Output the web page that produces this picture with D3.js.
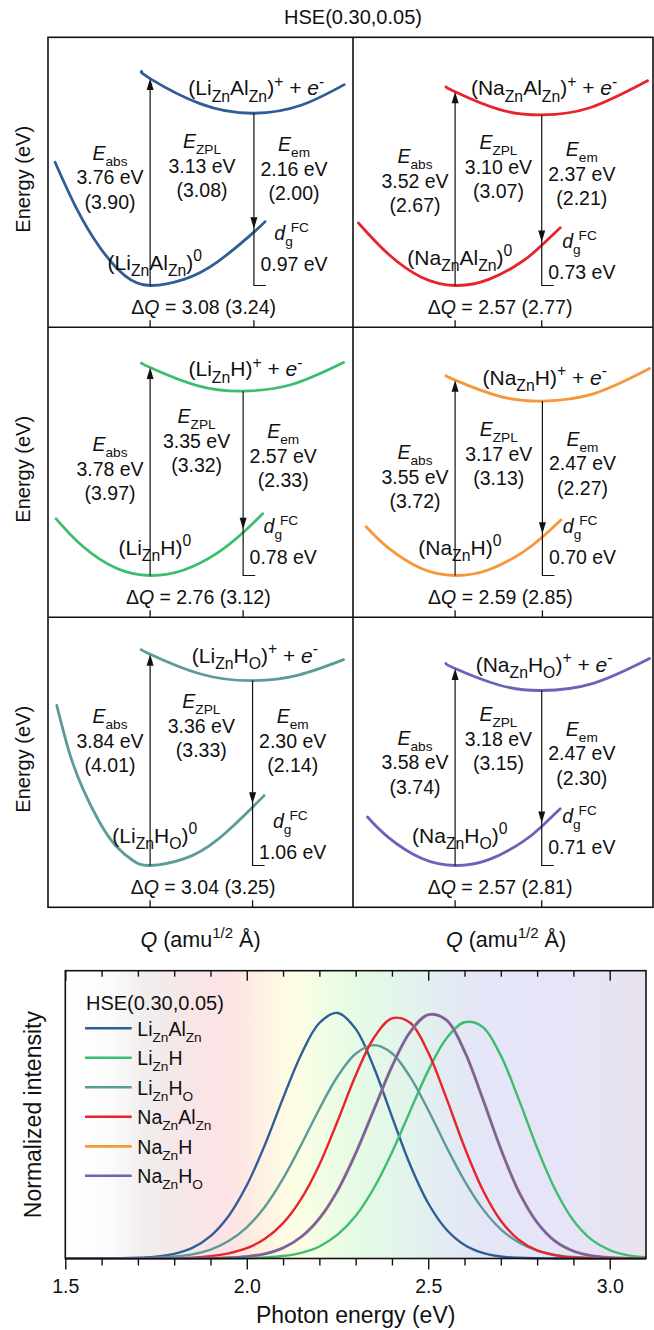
<!DOCTYPE html>
<html>
<head>
<meta charset="utf-8">
<script src="https://cdn.jsdelivr.net/npm/d3@7"></script>
<style>
  body { margin: 0; background: #fff; }
</style>
</head>
<body>
<script>
// ---------- configuration-coordinate panels (row-major: Li left, Na right) ----------
const defects = ["Li_{Zn}Al_{Zn}", "Na_{Zn}Al_{Zn}", "Li_{Zn}H", "Na_{Zn}H", "Li_{Zn}H_{O}", "Na_{Zn}H_{O}"];
const eAbs     = [3.76, 3.52, 3.78, 3.55, 3.84, 3.58];
const eAbsAlt  = [3.90, 2.67, 3.97, 3.72, 4.01, 3.74];
const eZpl     = [3.13, 3.10, 3.35, 3.17, 3.36, 3.18];
const eZplAlt  = [3.08, 3.07, 3.32, 3.13, 3.33, 3.15];
const eEm      = [2.16, 2.37, 2.57, 2.47, 2.30, 2.47];
const eEmAlt   = [2.00, 2.21, 2.33, 2.27, 2.14, 2.30];
const dgFC     = [0.97, 0.73, 0.78, 0.70, 1.06, 0.71];
const deltaQ   = [3.08, 2.57, 2.76, 2.59, 3.04, 2.57];
const deltaQAlt = [3.24, 2.77, 3.12, 2.85, 3.25, 2.81];

// potential energy curves [Q, E]
const groundCurves = [
  [[-2.82, 2.24], [-2.2, 1.42], [-1.5, 0.70], [-0.75, 0.18], [0, 0], [1, 0.11], [2, 0.43], [3.08, 0.97], [3.41, 1.16]],
  [[-2.87, 1.135], [-2, 0.58], [-1, 0.15], [0, 0], [1, 0.11], [2, 0.44], [2.57, 0.73], [3.12, 1.05]],
  [[-2.79, 1.03], [-2, 0.53], [-1, 0.13], [0, 0], [1, 0.10], [2, 0.41], [2.76, 0.78], [3.34, 1.12]],
  [[-2.64, 0.885], [-2, 0.51], [-1, 0.127], [0, 0], [1, 0.104], [2, 0.42], [2.59, 0.70], [3.14, 1.01]],
  [[-2.77, 2.91], [-2.4, 2.06], [-2, 1.40], [-1.5, 0.785], [-1, 0.345], [-0.5, 0.086], [0, 0], [1, 0.12], [2, 0.47], [3.04, 1.06], [3.38, 1.27]],
  [[-2.60, 0.88], [-2, 0.52], [-1, 0.13], [0, 0], [1, 0.107], [2, 0.43], [2.57, 0.71], [3.12, 1.03]]
];
const excitedCurves = [
  [[-0.25, 3.89], [0, 3.76], [1.5, 3.30], [3.08, 3.13], [4.5, 3.28], [5.76, 3.65]],
  [[-0.27, 3.61], [0, 3.52], [1.3, 3.20], [2.57, 3.10], [4.0, 3.23], [5.71, 3.72]],
  [[-0.25, 3.86], [0, 3.78], [1.4, 3.45], [2.76, 3.35], [4.2, 3.47], [5.74, 3.87]],
  [[-0.27, 3.63], [0, 3.55], [1.3, 3.26], [2.59, 3.17], [4.1, 3.30], [5.77, 3.76]],
  [[-0.25, 3.92], [0, 3.84], [1.5, 3.48], [3.04, 3.36], [4.4, 3.46], [5.74, 3.74]],
  [[-0.27, 3.67], [0, 3.58], [1.3, 3.28], [2.57, 3.18], [4.1, 3.31], [5.77, 3.76]]
];

// ---------- emission spectra ----------
const energies = [1.50, 1.55, 1.60, 1.65, 1.70, 1.75, 1.80, 1.85, 1.90, 1.95, 2.00, 2.05, 2.10, 2.15, 2.20, 2.25, 2.30,
                  2.35, 2.40, 2.45, 2.50, 2.55, 2.60, 2.65, 2.70, 2.75, 2.80, 2.85, 2.90, 2.95, 3.00, 3.05, 3.10];
const liAlZn = [0, 0, 0, 0.001, 0.003, 0.007, 0.019, 0.043, 0.091, 0.173, 0.298, 0.463, 0.653, 0.831, 0.959, 1.000, 0.935,
                0.779, 0.578, 0.382, 0.225, 0.118, 0.055, 0.023, 0.008, 0.003, 0.001, 0, 0, 0, 0, 0, 0];
const liH    = [0, 0, 0, 0, 0, 0, 0, 0, 0, 0, 0.001, 0.004, 0.010, 0.023, 0.049, 0.097, 0.173,
                0.286, 0.432, 0.600, 0.765, 0.896, 0.962, 0.943, 0.826, 0.646, 0.450, 0.280, 0.155, 0.077, 0.034, 0.013, 0.005];
const liHO   = [0, 0, 0, 0, 0.001, 0.003, 0.008, 0.017, 0.036, 0.071, 0.127, 0.211, 0.325, 0.463, 0.609, 0.741, 0.834,
                0.869, 0.836, 0.740, 0.605, 0.455, 0.316, 0.202, 0.119, 0.065, 0.032, 0.015, 0.006, 0.002, 0.001, 0, 0];
const naAlZn = [0, 0, 0, 0, 0, 0, 0.001, 0.003, 0.009, 0.021, 0.042, 0.080, 0.144, 0.243, 0.382, 0.559, 0.745,
                0.898, 0.978, 0.960, 0.839, 0.653, 0.453, 0.280, 0.154, 0.076, 0.033, 0.013, 0.004, 0.001, 0, 0, 0];
const naH    = [0, 0, 0, 0, 0, 0, 0, 0, 0.001, 0.003, 0.008, 0.019, 0.043, 0.088, 0.163, 0.276, 0.428,
                0.605, 0.782, 0.922, 0.993, 0.971, 0.844, 0.651, 0.446, 0.271, 0.147, 0.070, 0.030, 0.011, 0.004, 0.001, 0];
const naHO   = [0, 0, 0, 0, 0, 0, 0, 0, 0.001, 0.003, 0.008, 0.019, 0.043, 0.088, 0.163, 0.276, 0.428,
                0.605, 0.782, 0.922, 0.993, 0.971, 0.844, 0.651, 0.446, 0.271, 0.147, 0.070, 0.030, 0.011, 0.004, 0.001, 0];
const majorTicks = [1.5, 2.0, 2.5, 3.0];
const minorTicks = [1.6, 1.7, 1.8, 1.9, 2.1, 2.2, 2.3, 2.4, 2.6, 2.7, 2.8, 2.9];

// ---------- styles ----------
const panelColors = ["#2f5e96", "#e8232a", "#3dbd6e", "#f7963a", "#5b9b98", "#6a64b9"];
const bgStops = [[1.50, "#ffffff"], [1.62, "#fcfcfc"], [1.72, "#f1eded"], [1.85, "#f8e5e7"], [1.95, "#fde3e5"],
                 [2.02, "#fdede2"], [2.12, "#fefde4"], [2.22, "#f0fde4"], [2.30, "#e5fbe5"], [2.40, "#e3f6ea"],
                 [2.48, "#e2f1ee"], [2.56, "#e3eaf3"], [2.64, "#e4e6f7"], [2.85, "#e6e4f8"], [3.00, "#e7e3f3"], [3.10, "#e9e3ee"]];

const FONT = "'Liberation Sans', Arial, Helvetica, sans-serif";
const fs = 19.5;
const lineGap = 24.5;
const fmt = d3.format(".2f");

const svg = d3.select("body").append("svg")
  .attr("width", 654)
  .attr("height", 1330)
  .style("font-family", FONT);

// tiny markup: _{sub} ^{sup} *italic*
function rich(sel, str, size, k) {
  const tokens = str.split(/(_\{[^}]*\}|\^\{[^}]*\}|\*[^*]+\*)/).filter(t => t.length);
  let shift = 0, prev = "n";
  tokens.forEach(t => {
    let kind = "n", txt = t;
    if (t.startsWith("_{")) { kind = "sub"; txt = t.slice(2, -1); }
    else if (t.startsWith("^{")) { kind = "sup"; txt = t.slice(2, -1); }
    else if (t.startsWith("*")) { kind = "it"; txt = t.slice(1, -1); }
    const target = kind === "sub" ? 0.3 * size : kind === "sup" ? -0.42 * size : 0;
    const ts = sel.append("tspan").text(txt).attr("dy", target - shift);
    if (kind === "sub" || kind === "sup") ts.attr("font-size", k * size);
    if (kind === "it") ts.attr("font-style", "italic");
    if (kind === "sup" && prev === "sub") ts.attr("dx", -2);
    shift = target; prev = kind;
  });
  return sel;
}

function label(g, x, y, str, size, anchor, k) {
  const t = g.append("text")
    .attr("x", x).attr("y", y)
    .attr("font-size", size)
    .attr("text-anchor", anchor || "middle")
    .attr("fill", "#111");
  return rich(t, str, size, k || 0.7);
}

// ---------- top: six CC diagrams ----------
const gridLeft = 48, gridMid = 353, gridRight = 653, panelW = 305, rowH = 290;
const rowTops = [37.3, 327.3, 617.3];
const qDomain = [-3.03, 6.02], eDomain = [-0.76, 4.51];

// annotation layout (first-line baselines, in eV)
const excLabelE = [3.453, 3.453, 3.616, 3.465, 3.678, 3.514];
const gndLabelE = [0.285, 0.376, 0.376, 0.376, 0.407, 0.407];
const absTextE  = [2.284, 2.224, 2.253, 2.115, 2.588, 2.193];
const zplTextE  = [2.497, 2.479, 2.769, 2.526, 2.860, 2.617];
const emTextE   = [2.435, 2.344, 2.497, 2.357, 2.588, 2.357];
const dgTextE   = [0.818, 0.680, 0.770, 0.770, 0.680, 0.770];

label(svg, 353, 24, "HSE(0.30,0.05)", 20);

defects.forEach((name, i) => {
  const col = i % 2, row = Math.floor(i / 2);
  const left = col ? gridMid : gridLeft;
  const top = rowTops[row];
  const x = d3.scaleLinear().domain(qDomain).range([left, left + panelW]);
  const y = d3.scaleLinear().domain(eDomain).range([top + rowH, top]);
  const g = svg.append("g");

  const line = d3.line()
    .x(d => x(d[0]))
    .y(d => y(d[1]))
    .curve(d3.curveNatural);

  [groundCurves[i], excitedCurves[i]].forEach(pts => {
    g.append("path")
      .attr("d", line(pts))
      .attr("fill", "none")
      .attr("stroke", panelColors[i])
      .attr("stroke-width", 2.8)
      .attr("stroke-linecap", "round");
  });

  // absorption arrow
  const xa = x(0), yTip = y(eAbs[i]);
  g.append("line")
    .attr("x1", xa).attr("x2", xa)
    .attr("y1", y(0)).attr("y2", yTip + 8)
    .attr("stroke", "#111").attr("stroke-width", 1.2);
  g.append("path")
    .attr("d", `M${xa},${yTip}L${xa - 3.5},${yTip + 11.5}L${xa + 3.5},${yTip + 11.5}Z`)
    .attr("fill", "#111");

  // emission arrow + d_g bracket
  const xe = x(deltaQ[i]), yEm = y(dgFC[i] + 0.06);
  g.append("path")
    .attr("d", `M${xe},${y(eZpl[i])}V${y(0)}H${xe + 12}`)
    .attr("fill", "none")
    .attr("stroke", "#111").attr("stroke-width", 1.2);
  g.append("path")
    .attr("d", `M${xe},${yEm}L${xe - 3.5},${yEm - 11.5}L${xe + 3.5},${yEm - 11.5}Z`)
    .attr("fill", "#111");

  // bottom ticks at the two minima
  [0, deltaQ[i]].forEach(q => {
    g.append("line")
      .attr("x1", x(q)).attr("x2", x(q))
      .attr("y1", top + rowH).attr("y2", top + rowH - 7)
      .attr("stroke", "#111").attr("stroke-width", 1.3);
  });

  // labels
  label(g, x(deltaQ[i] + 0.07), y(excLabelE[i]), `(${name})^{+} + *e*^{-}`, 21, "middle", 0.75);
  label(g, x(0.14), y(gndLabelE[i]), `(${name})^{0}`, 21, "middle", 0.75);

  const block = (q, e, lines) => lines.forEach((s, k) => label(g, x(q), y(e) + k * lineGap, s, fs));
  block(-1.19, absTextE[i], ["*E*_{abs}", `${fmt(eAbs[i])} eV`, `(${fmt(eAbsAlt[i])})`]);
  block(deltaQ[i] / 2, zplTextE[i], ["*E*_{ZPL}", `${fmt(eZpl[i])} eV`, `(${fmt(eZplAlt[i])})`]);
  block(deltaQ[i] + 1.19, emTextE[i], ["*E*_{em}", `${fmt(eEm[i])} eV`, `(${fmt(eEmAlt[i])})`]);
  label(g, x(deltaQ[i] + 1.12), y(dgTextE[i]), "*d*_{g}^{FC}", fs);
  label(g, x(deltaQ[i] + 1.19), y(dgTextE[i]) + 31, `${fmt(dgFC[i])} eV`, fs);
  label(g, x(deltaQ[i] / 2 + 0.05), y(-0.52), `Δ*Q* = ${fmt(deltaQ[i])} (${fmt(deltaQAlt[i])})`, fs);
});

// grid frame
const frame = svg.append("g").attr("fill", "none").attr("stroke", "#111").attr("stroke-width", 1.6);
frame.append("rect")
  .attr("x", gridLeft).attr("y", rowTops[0])
  .attr("width", gridRight - gridLeft).attr("height", rowH * 3);
frame.append("line")
  .attr("x1", gridMid).attr("x2", gridMid)
  .attr("y1", rowTops[0]).attr("y2", rowTops[0] + rowH * 3);
[1, 2].forEach(r => frame.append("line")
  .attr("x1", gridLeft).attr("x2", gridRight)
  .attr("y1", rowTops[r]).attr("y2", rowTops[r]));

rowTops.forEach(t => {
  label(svg, 0, 0, "Energy (eV)", 20)
    .attr("transform", `translate(30,${t + rowH / 2 - 3}) rotate(-90)`);
});
label(svg, (gridLeft + gridMid) / 2, 947, "*Q* (amu^{1/2} Å)", 21.5);
label(svg, (gridMid + gridRight) / 2 + 3, 947, "*Q* (amu^{1/2} Å)", 21.5);

// ---------- bottom: emission line shapes ----------
const xs = d3.scaleLinear().domain([1.5, 3.1]).range([65.3, 646]);
const ys = d3.scaleLinear().domain([0, 1.172]).range([1258.5, 970.7]);

const grad = svg.append("defs").append("linearGradient")
  .attr("id", "spectrum")
  .attr("gradientUnits", "userSpaceOnUse")
  .attr("x1", xs(1.5)).attr("x2", xs(3.1))
  .attr("y1", 0).attr("y2", 0);
bgStops.forEach(([e, c]) => grad.append("stop")
  .attr("offset", (e - 1.5) / 1.6)
  .attr("stop-color", c));

svg.append("rect")
  .attr("x", xs(1.5)).attr("y", ys(1.172))
  .attr("width", xs(3.1) - xs(1.5)).attr("height", ys(0) - ys(1.172))
  .attr("fill", "url(#spectrum)");

const series = [
  { name: "Li_{Zn}Al_{Zn}", values: liAlZn, color: panelColors[0], w: 2.4 },
  { name: "Li_{Zn}H",       values: liH,    color: panelColors[2], w: 2.4 },
  { name: "Li_{Zn}H_{O}",   values: liHO,   color: panelColors[4], w: 2.4 },
  { name: "Na_{Zn}Al_{Zn}", values: naAlZn, color: panelColors[1], w: 2.4 },
  { name: "Na_{Zn}H",       values: naH,    color: panelColors[3], w: 3.1 },
  { name: "Na_{Zn}H_{O}",   values: naHO,   color: panelColors[5], w: 2.4 }
];

const specLine = d3.line()
  .x(d => xs(d[0]))
  .y(d => ys(d[1]))
  .curve(d3.curveCatmullRom.alpha(0.5));

series.forEach(s => {
  svg.append("path")
    .attr("d", specLine(energies.map((e, k) => [e, s.values[k]])))
    .attr("fill", "none")
    .attr("stroke", s.color)
    .attr("stroke-width", s.w);
});

// axes
const axisStyle = g => {
  g.select(".domain").remove();
  g.selectAll("line").attr("stroke", "#111").attr("stroke-width", 1.4);
  g.attr("font-family", null).attr("font-size", null);
  g.selectAll("text").attr("font-size", 19.5).attr("fill", "#111");
};
svg.append("g").attr("transform", `translate(0,${ys(0)})`)
  .call(d3.axisBottom(xs).tickValues(minorTicks).tickSize(7).tickFormat(""))
  .call(axisStyle);
svg.append("g").attr("transform", `translate(0,${ys(0)})`)
  .call(d3.axisBottom(xs).tickValues(majorTicks).tickSize(11).tickPadding(10).tickFormat(d3.format(".1f")))
  .call(axisStyle);
svg.append("g").attr("transform", `translate(0,${ys(1.172)})`)
  .call(d3.axisTop(xs).tickValues(minorTicks).tickSize(-6).tickFormat(""))
  .call(axisStyle);
svg.append("g").attr("transform", `translate(0,${ys(1.172)})`)
  .call(d3.axisTop(xs).tickValues(majorTicks).tickSize(-10).tickFormat(""))
  .call(axisStyle);

svg.append("rect")
  .attr("x", xs(1.5)).attr("y", ys(1.172))
  .attr("width", xs(3.1) - xs(1.5)).attr("height", ys(0) - ys(1.172))
  .attr("fill", "none").attr("stroke", "#111").attr("stroke-width", 1.6);

label(svg, (xs(1.5) + xs(3.1)) / 2, 1323, "Photon energy (eV)", 23);
label(svg, 0, 0, "Normalized intensity", 23)
  .attr("transform", `translate(41,${(ys(0) + ys(1.172)) / 2}) rotate(-90)`);

// legend
const legend = svg.append("g");
label(legend, 86, 1010, "HSE(0.30,0.05)", 20, "start");
series.forEach((s, k) => {
  const ly = 1028.3 + k * 29.5;
  legend.append("line")
    .attr("x1", 85).attr("x2", 131.7)
    .attr("y1", ly).attr("y2", ly)
    .attr("stroke", s.color).attr("stroke-width", s.w > 3 ? 2.8 : 2.6);
  label(legend, 137.3, ly + 7.5, s.name, fs, "start");
});
</script>
</body>
</html>
